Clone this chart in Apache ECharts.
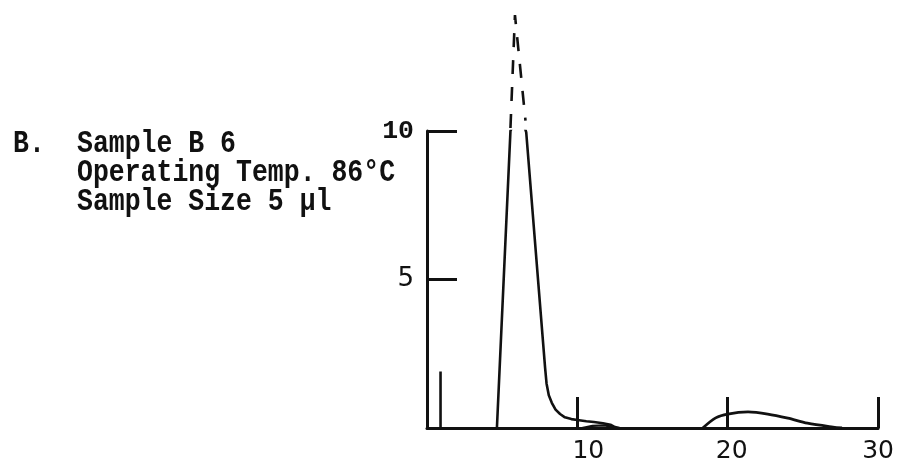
<!DOCTYPE html>
<html>
<head>
<meta charset="utf-8">
<title>Sample B 6 chromatogram</title>
<script src="https://cdn.jsdelivr.net/npm/echarts@6/dist/echarts.min.js"></script>
<style>
  html, body { margin: 0; padding: 0; background: #ffffff; }
  #chart { width: 897px; height: 466px; }
</style>
</head>
<body>
<div id="chart"></div>
<script>
// Retention time axis (minutes) and detector response axis
const xTicks = [0, 10, 20, 30];
const yTicks = [0, 5, 10];

// Injection mark near the origin
const injectionSpike = [[0.9, 0], [0.9, 1.9]];

// Main peak: recorded trace, clipped at full scale
const mainPeak = [
  [4.65, 0], [5.55, 10.0], [5.65, 10.13], [5.8, 10.17], [6.35, 10.17],
  [6.5, 10.12], [6.6, 9.95], [7.85, 2.05], [7.95, 1.5], [8.1, 1.1],
  [8.3, 0.85], [8.55, 0.62], [8.85, 0.47], [9.17, 0.36], [9.6, 0.3],
  [10.0, 0.27], [10.6, 0.23], [11.1, 0.2], [11.7, 0.16], [12.2, 0.11],
  [12.5, 0.03], [12.8, 0]
];

// Extrapolated apex of the clipped peak
const mainPeakApex = [[5.55, 10.1], [5.85, 13.9], [6.55, 10.35]];

// Shoulder on the tail of the main peak
const tailShoulder = [[10.3, 0], [11.0, 0.07], [11.8, 0.09], [12.4, 0.03]];

// Broad late-eluting peak
const laterPeak = [
  [18.34, 0], [19.2, 0.34], [20.0, 0.47], [21.35, 0.54], [22.66, 0.47],
  [24.0, 0.33], [25.3, 0.16], [27.0, 0.03], [27.6, 0]
];

// Run notes typed beside the trace
const runLabel = 'B.';
const runNotes = ['Sample B 6', 'Operating Temp. 86°C', 'Sample Size 5 µl'];

const ink = '#111111';
const mono = '"Liberation Mono", "DejaVu Sans Mono", monospace';
const sans = '"DejaVu Sans", sans-serif';
const typeFont = 'bold 26.5px ' + mono;

const chart = echarts.init(document.getElementById('chart'), null, { renderer: 'canvas' });

const traceLine = (data, extra) => Object.assign({
  type: 'line',
  data: data,
  showSymbol: false,
  symbol: 'none',
  silent: true,
  animation: false,
  lineStyle: { color: ink, width: 2.6 },
  z: 3
}, extra || {});

// Typewriter text: slightly tall glyphs, so stretch vertically
const typed = (text, x) => ({
  type: 'text',
  x: x, y: 130,
  scaleY: 1.15,
  silent: true,
  style: {
    text: text,
    x: 0, y: 0,
    font: typeFont,
    fill: ink,
    lineHeight: 25.2,
    verticalAlign: 'top'
  }
});

// Per-label nudges for the time axis labels
const xLabelPad = { 10: [0, 0, 0, 22], 20: [0, 0, 0, 8], 30: [0, 0, 0, 0] };

chart.setOption({
  backgroundColor: '#ffffff',
  animation: false,
  graphic: [
    typed(runLabel, 13),
    typed(runNotes.join('\n'), 77)
  ],
  grid: { left: 427, right: 12, top: 131, bottom: 38, containLabel: false },
  xAxis: {
    type: 'value',
    min: xTicks[0],
    max: xTicks[xTicks.length - 1],
    interval: xTicks[1] - xTicks[0],
    splitLine: { show: false },
    axisLine: { show: true, onZero: true, lineStyle: { color: ink, width: 3 } },
    axisTick: { show: true, inside: true, length: 31, lineStyle: { color: ink, width: 3 } },
    axisLabel: {
      margin: 11,
      color: ink,
      formatter: v => (v === 0 ? '' : '{t' + v + '|' + v + '}'),
      rich: {
        t10: { fontFamily: sans, fontSize: 25, color: ink, padding: xLabelPad[10] },
        t20: { fontFamily: sans, fontSize: 25, color: ink, padding: xLabelPad[20] },
        t30: { fontFamily: sans, fontSize: 25, color: ink, padding: xLabelPad[30] }
      }
    }
  },
  yAxis: {
    type: 'value',
    min: yTicks[0],
    max: yTicks[yTicks.length - 1],
    interval: yTicks[1] - yTicks[0],
    splitLine: { show: false },
    axisLine: { show: true, onZero: false, lineStyle: { color: ink, width: 3 } },
    axisTick: { show: true, inside: true, length: 30, lineStyle: { color: ink, width: 3 } },
    axisLabel: {
      margin: 13,
      color: ink,
      formatter: v => (v === 0 ? '' : (v === 10 ? '{m|' + v + '}' : '{s|' + v + '}')),
      rich: {
        m: { fontFamily: mono, fontWeight: 'bold', fontSize: 26.5, color: ink },
        s: { fontFamily: sans, fontSize: 26, color: ink }
      }
    }
  },
  series: [
    traceLine(injectionSpike),
    traceLine(mainPeak),
    traceLine(mainPeakApex, { clip: false, lineStyle: { color: ink, width: 2.6, type: [14, 13] } }),
    traceLine(tailShoulder, { lineStyle: { color: ink, width: 2.2 } }),
    traceLine(laterPeak, { smooth: 0.3, lineStyle: { color: ink, width: 2.8 } })
  ]
});
</script>
</body>
</html>
